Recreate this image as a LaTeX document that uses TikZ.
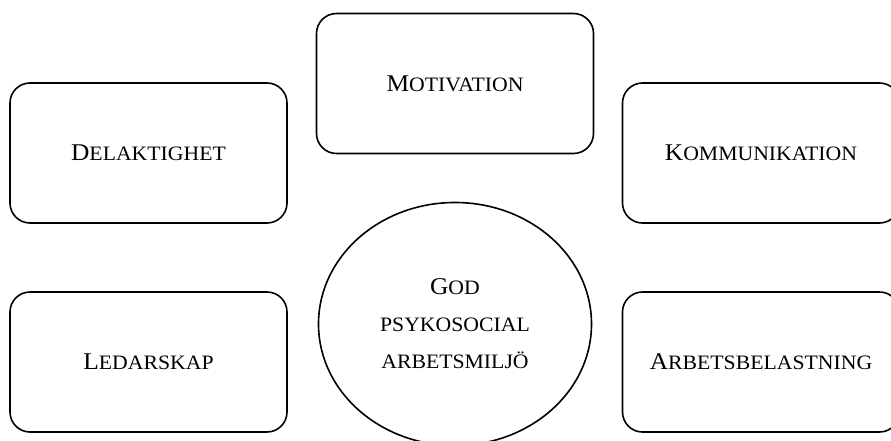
\documentclass[tikz,border=0pt]{standalone}
\usepackage{fontspec}
\setmainfont{Liberation Serif}[FakeStretch=1.06]
\usetikzlibrary{shapes.geometric, positioning}

% first letter in full caps, the rest in smaller caps
\newcommand{\smcap}[2]{#1{\fontsize{20.5}{37}\selectfont #2}}

\begin{document}
\begin{tikzpicture}[
  x=1pt, y=-1pt,
  factor/.style={rectangle, draw, line width=1.6pt, rounded corners=20pt, minimum width=277pt, minimum height=140pt, inner sep=0pt, outer sep=0pt, text centered, font=\fontsize{24}{37}\selectfont},
  hub/.style={ellipse, draw, line width=1.6pt, minimum width=273pt, minimum height=243pt, inner sep=0pt, outer sep=0pt, align=center, font=\fontsize{24}{37}\selectfont},
  node distance=69pt
]
\useasboundingbox (0,0) rectangle (891,441);
\clip (0,0) rectangle (891,441);

% Top
\node[factor] (motiv) at (455,83.5) {\smcap{M}{OTIVATION}};

% Upper row
\node[factor] (delak) at (148.5,153) {\smcap{D}{ELAKTIGHET}};
\node[factor] (kommu) at (761,153) {\smcap{K}{OMMUNIKATION}};

% Lower row
\node[factor, below=of delak] (ledar) {\smcap{L}{EDARSKAP}};
\node[factor, below=of kommu] (arbet) {\smcap{A}{RBETSBELASTNING}};

% Centre
\node[hub, below=49pt of motiv] (god) {\smcap{G}{OD}\\{\fontsize{20.5}{37}\selectfont PSYKOSOCIAL}\\{\fontsize{20.5}{37}\selectfont ARBETSMILJÖ}};
\end{tikzpicture}
\end{document}
